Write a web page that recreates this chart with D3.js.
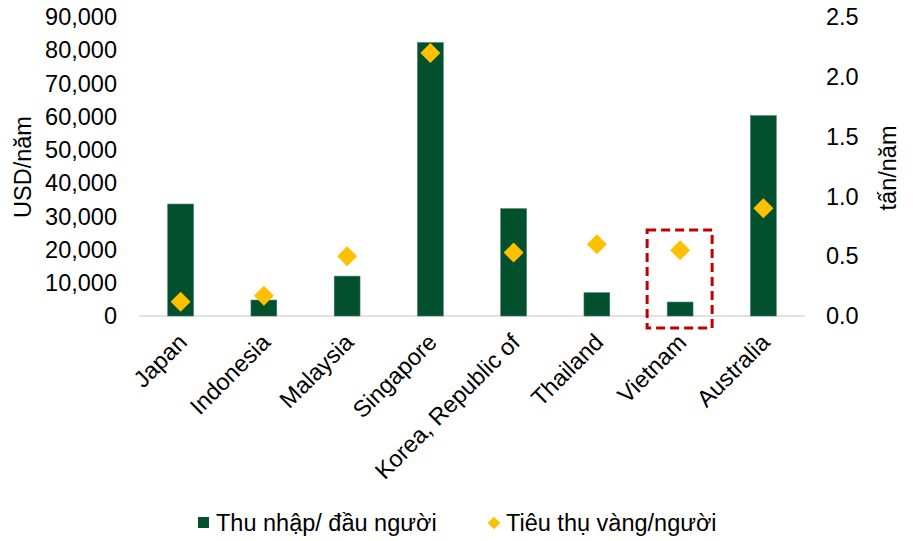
<!DOCTYPE html>
<html>
<head>
<meta charset="utf-8">
<script src="https://cdn.jsdelivr.net/npm/d3@7"></script>
<style>
  body { margin: 0; background: #fff; }
  text { font-family: "Liberation Sans", Arial, sans-serif; fill: #000; font-size: 23.5px; }
</style>
</head>
<body>
<svg width="913" height="541"></svg>
<script>
// data
var countries = ["Japan", "Indonesia", "Malaysia", "Singapore", "Korea, Republic of", "Thailand", "Vietnam", "Australia"];
var income = [33700, 4800, 12000, 82300, 32300, 7000, 4200, 60300];
var goldPerCapita = [0.12, 0.17, 0.50, 2.20, 0.53, 0.60, 0.55, 0.90];
var leftTicks = [0, 10000, 20000, 30000, 40000, 50000, 60000, 70000, 80000, 90000];
var rightTicks = [0, 0.5, 1.0, 1.5, 2.0, 2.5];

var svg = d3.select("svg");
var plotLeft = 139, plotRight = 805, plotTop = 17, plotBottom = 316;

var x = d3.scaleBand().domain(countries).range([plotLeft, plotRight]).paddingInner(0.69).paddingOuter(0.345);
var yL = d3.scaleLinear().domain([0, 90000]).range([plotBottom, plotTop]);
var yR = d3.scaleLinear().domain([0, 2.5]).range([plotBottom, plotTop]);

// baseline
svg.append("line")
  .attr("x1", plotLeft).attr("x2", plotRight)
  .attr("y1", plotBottom).attr("y2", plotBottom)
  .attr("stroke", "#d9d9d9").attr("stroke-width", 1.5);

// left axis
var fmt = d3.format(",");
svg.append("g").selectAll("text")
  .data(leftTicks).enter().append("text")
  .attr("x", 117).attr("y", d => yL(d))
  .attr("dy", "0.35em")
  .attr("text-anchor", "end")
  .text(d => fmt(d));

// right axis
svg.append("g").selectAll("text")
  .data(rightTicks).enter().append("text")
  .attr("x", 826).attr("y", d => yR(d))
  .attr("dy", "0.35em")
  .text(d => d.toFixed(1));

// axis titles
svg.append("text")
  .attr("transform", "translate(31,167) rotate(-90)")
  .attr("text-anchor", "middle")
  .text("USD/năm");
svg.append("text")
  .attr("transform", "translate(896,168) rotate(-90)")
  .attr("text-anchor", "middle")
  .text("tấn/năm");

// bars
svg.append("g").selectAll("rect")
  .data(countries).enter().append("rect")
  .attr("x", d => x(d))
  .attr("width", x.bandwidth())
  .attr("y", (d, i) => yL(income[i]))
  .attr("height", (d, i) => plotBottom - yL(income[i]))
  .attr("fill", "#03502f")
  .attr("stroke", "#3f7a5e").attr("stroke-width", 0.6);

// diamonds
var diamond = d3.symbol().type(d3.symbolSquare).size(200);
svg.append("g").selectAll("path")
  .data(countries).enter().append("path")
  .attr("d", diamond)
  .attr("transform", (d, i) => "translate(" + (x(d) + x.bandwidth() / 2) + "," + yR(goldPerCapita[i]) + ") rotate(45)")
  .attr("fill", "#ffc000");

// highlight box around Vietnam
var vx = x("Vietnam") + x.bandwidth() / 2;
svg.append("rect")
  .attr("x", vx - 33).attr("y", 230)
  .attr("width", 65).attr("height", 98)
  .attr("fill", "none")
  .attr("stroke", "#c00000").attr("stroke-width", 3)
  .attr("stroke-dasharray", "9,5");

// category labels
svg.append("g").selectAll("text")
  .data(countries).enter().append("text")
  .attr("transform", d => "translate(" + (x(d) + x.bandwidth() / 2 + 2) + ",338) rotate(-45)")
  .attr("text-anchor", "end")
  .attr("dy", "0.35em")
  .text(d => d);

// legend
var lg = svg.append("g");
lg.append("rect").attr("x", 198).attr("y", 517).attr("width", 11).attr("height", 11).attr("fill", "#03502f");
lg.append("text").attr("x", 216).attr("y", 523).attr("dy", "0.35em").text("Thu nhập/ đầu người");
lg.append("path")
  .attr("d", d3.symbol().type(d3.symbolSquare).size(80))
  .attr("transform", "translate(494,523) rotate(45)")
  .attr("fill", "#ffc000");
lg.append("text").attr("x", 506).attr("y", 523).attr("dy", "0.35em").text("Tiêu thụ vàng/người");
</script>
</body>
</html>
